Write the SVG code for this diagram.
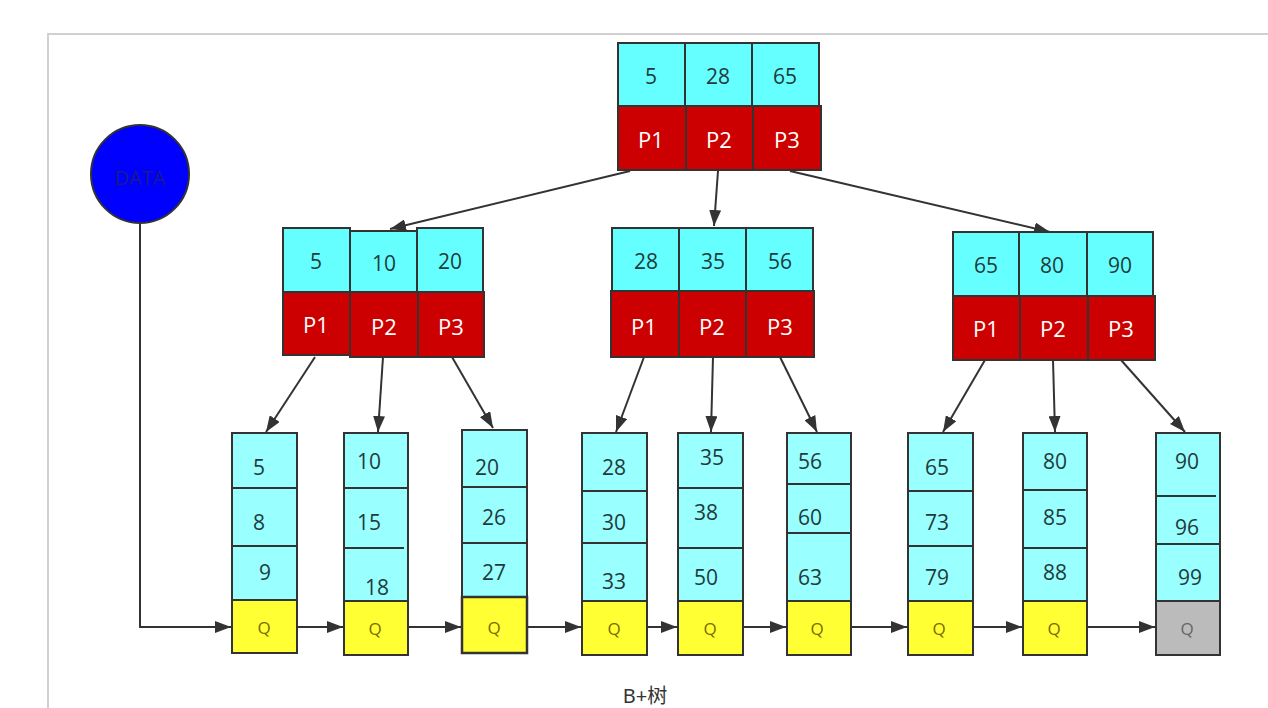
<svg xmlns="http://www.w3.org/2000/svg" width="1268" height="708" viewBox="0 0 1268 708">
<defs>
<marker id="ah" viewBox="0 0 10 10" refX="10" refY="5" markerWidth="16" markerHeight="12" markerUnits="userSpaceOnUse" orient="auto" preserveAspectRatio="none">
<path d="M0,0 L10,5 L0,10 z" fill="#333"/>
</marker>
<style>
.k{fill:#66ffff;stroke:#333;stroke-width:2}
.l{fill:#99ffff;stroke:#333;stroke-width:2}
.p{fill:#cc0000;stroke:#333;stroke-width:2}
.q{fill:#ffff33;stroke:#333;stroke-width:2}
.g{fill:#bbbbbb;stroke:#333;stroke-width:2}
.sep{stroke:#333;stroke-width:2}
text{font-family:"Open Sans","Noto Sans","Liberation Sans",sans-serif;text-anchor:middle;dominant-baseline:central}
.t{font-size:21px;fill:#1f3b3b}
.tp{font-size:22px;fill:#ffffff}
.tq{font-size:17px;fill:#7a6c00}
.tg{font-size:17px;fill:#666}
.c{stroke:#333;stroke-width:2;fill:none;marker-end:url(#ah)}
</style>
</defs>
<rect width="1268" height="708" fill="#ffffff"/>
<path d="M48,708 L48,34 L1268,34" fill="none" stroke="#d0d0d0" stroke-width="2"/>

<g id="connectors">
<path class="c" d="M140,222 L140,627 L231,627"/>
<line class="c" x1="630" y1="171" x2="390" y2="229"/>
<line class="c" x1="718" y1="171" x2="714" y2="226"/>
<line class="c" x1="790" y1="171" x2="1050" y2="232"/>
<line class="c" x1="315" y1="357" x2="266" y2="432"/>
<line class="c" x1="383" y1="357" x2="378" y2="432"/>
<line class="c" x1="452" y1="357" x2="493" y2="428"/>
<line class="c" x1="644" y1="357" x2="616" y2="432"/>
<line class="c" x1="713" y1="357" x2="711" y2="432"/>
<line class="c" x1="780" y1="357" x2="817" y2="432"/>
<line class="c" x1="985" y1="360" x2="943" y2="432"/>
<line class="c" x1="1053" y1="360" x2="1055" y2="432"/>
<line class="c" x1="1121" y1="360" x2="1185" y2="432"/>
<line class="c" x1="297" y1="627" x2="343" y2="627"/>
<line class="c" x1="408" y1="627" x2="461" y2="627"/>
<line class="c" x1="527" y1="627" x2="581" y2="627"/>
<line class="c" x1="647" y1="627" x2="677" y2="627"/>
<line class="c" x1="743" y1="627" x2="786" y2="627"/>
<line class="c" x1="851" y1="627" x2="907" y2="627"/>
<line class="c" x1="973" y1="627" x2="1022" y2="627"/>
<line class="c" x1="1087" y1="627" x2="1155" y2="627"/>
</g>

<g id="data">
<circle cx="140" cy="174" r="49" fill="#0000ff" stroke="#333" stroke-width="2"/>
<text x="140" y="177" style="font-size:20px;fill:#1a1a8c">DATA</text>
</g>

<g id="root">
<rect class="k" x="618" y="43" width="67" height="63"/>
<rect class="k" x="685" y="43" width="67" height="63"/>
<rect class="k" x="752" y="43" width="67" height="63"/>
<rect class="p" x="618" y="106" width="68" height="64"/>
<rect class="p" x="686" y="106" width="67" height="64"/>
<rect class="p" x="753" y="106" width="68" height="64"/>
<text class="t" x="651" y="76">5</text>
<text class="t" x="718" y="76">28</text>
<text class="t" x="785" y="76">65</text>
<text class="tp" x="651" y="139">P1</text>
<text class="tp" x="719" y="139">P2</text>
<text class="tp" x="787" y="139">P3</text>
</g>

<g id="inner-left">
<rect class="k" x="283" y="228" width="67" height="64"/>
<rect class="k" x="350" y="231" width="67" height="61"/>
<rect class="k" x="417" y="228" width="66" height="64"/>
<rect class="p" x="283" y="292" width="67" height="63"/>
<rect class="p" x="350" y="292" width="68" height="65"/>
<rect class="p" x="418" y="292" width="66" height="65"/>
<text class="t" x="316" y="261">5</text>
<text class="t" x="384" y="263">10</text>
<text class="t" x="450" y="261">20</text>
<text class="tp" x="316" y="324">P1</text>
<text class="tp" x="384" y="326">P2</text>
<text class="tp" x="451" y="326">P3</text>
</g>

<g id="inner-mid">
<rect class="k" x="612" y="228" width="67" height="63"/>
<rect class="k" x="679" y="228" width="67" height="63"/>
<rect class="k" x="746" y="228" width="67" height="63"/>
<rect class="p" x="611" y="291" width="68" height="66"/>
<rect class="p" x="679" y="291" width="67" height="66"/>
<rect class="p" x="746" y="291" width="68" height="66"/>
<text class="t" x="646" y="261">28</text>
<text class="t" x="713" y="261">35</text>
<text class="t" x="780" y="261">56</text>
<text class="tp" x="644" y="326">P1</text>
<text class="tp" x="712" y="326">P2</text>
<text class="tp" x="780" y="326">P3</text>
</g>

<g id="inner-right">
<rect class="k" x="953" y="232" width="66" height="64"/>
<rect class="k" x="1019" y="232" width="68" height="64"/>
<rect class="k" x="1087" y="232" width="66" height="64"/>
<rect class="p" x="953" y="296" width="67" height="64"/>
<rect class="p" x="1020" y="296" width="68" height="64"/>
<rect class="p" x="1088" y="296" width="67" height="64"/>
<text class="t" x="986" y="265">65</text>
<text class="t" x="1052" y="265">80</text>
<text class="t" x="1120" y="265">90</text>
<text class="tp" x="986" y="328">P1</text>
<text class="tp" x="1053" y="328">P2</text>
<text class="tp" x="1121" y="328">P3</text>
</g>

<g id="leaf1">
<rect class="l" x="232" y="433" width="65" height="167"/>
<line class="sep" x1="232" y1="488" x2="297" y2="488"/>
<line class="sep" x1="232" y1="546" x2="297" y2="546"/>
<rect class="q" x="232" y="600" width="65" height="53"/>
<text class="t" x="259" y="467">5</text>
<text class="t" x="259" y="522">8</text>
<text class="t" x="265" y="572">9</text>
<text class="tq" x="264" y="627">Q</text>
</g>

<g id="leaf2">
<rect class="l" x="344" y="433" width="64" height="168"/>
<line class="sep" x1="344" y1="488" x2="408" y2="488"/>
<line class="sep" x1="344" y1="548" x2="404" y2="548"/>
<rect class="q" x="344" y="601" width="64" height="54"/>
<text class="t" x="369" y="461">10</text>
<text class="t" x="369" y="522">15</text>
<text class="t" x="377" y="587">18</text>
<text class="tq" x="375" y="628">Q</text>
</g>

<g id="leaf3">
<rect class="l" x="462" y="430" width="65" height="167"/>
<line class="sep" x1="462" y1="487" x2="527" y2="487"/>
<line class="sep" x1="462" y1="543" x2="527" y2="543"/>
<rect class="q" x="462" y="597" width="65" height="56" style="stroke-width:2.5"/>
<text class="t" x="487" y="467">20</text>
<text class="t" x="494" y="517">26</text>
<text class="t" x="494" y="572">27</text>
<text class="tq" x="494" y="627">Q</text>
</g>

<g id="leaf4">
<rect class="l" x="582" y="433" width="65" height="168"/>
<line class="sep" x1="582" y1="491" x2="647" y2="491"/>
<line class="sep" x1="582" y1="543" x2="647" y2="543"/>
<rect class="q" x="582" y="601" width="65" height="54"/>
<text class="t" x="614" y="467">28</text>
<text class="t" x="614" y="522">30</text>
<text class="t" x="614" y="581">33</text>
<text class="tq" x="614" y="628">Q</text>
</g>

<g id="leaf5">
<rect class="l" x="678" y="433" width="65" height="168"/>
<line class="sep" x1="678" y1="488" x2="743" y2="488"/>
<line class="sep" x1="678" y1="548" x2="743" y2="548"/>
<rect class="q" x="678" y="601" width="65" height="54"/>
<text class="t" x="712" y="457">35</text>
<text class="t" x="706" y="512">38</text>
<text class="t" x="706" y="577">50</text>
<text class="tq" x="710" y="628">Q</text>
</g>

<g id="leaf6">
<rect class="l" x="787" y="433" width="64" height="168"/>
<line class="sep" x1="787" y1="484" x2="851" y2="484"/>
<line class="sep" x1="787" y1="533" x2="851" y2="533"/>
<rect class="q" x="787" y="601" width="64" height="54"/>
<text class="t" x="810" y="461">56</text>
<text class="t" x="810" y="517">60</text>
<text class="t" x="810" y="577">63</text>
<text class="tq" x="817" y="628">Q</text>
</g>

<g id="leaf7">
<rect class="l" x="908" y="433" width="65" height="168"/>
<line class="sep" x1="908" y1="491" x2="973" y2="491"/>
<line class="sep" x1="908" y1="546" x2="973" y2="546"/>
<rect class="q" x="908" y="601" width="65" height="54"/>
<text class="t" x="937" y="467">65</text>
<text class="t" x="937" y="522">73</text>
<text class="t" x="937" y="577">79</text>
<text class="tq" x="939" y="628">Q</text>
</g>

<g id="leaf8">
<rect class="l" x="1023" y="433" width="64" height="168"/>
<line class="sep" x1="1023" y1="490" x2="1087" y2="490"/>
<line class="sep" x1="1023" y1="548" x2="1087" y2="548"/>
<rect class="q" x="1023" y="601" width="64" height="54"/>
<text class="t" x="1055" y="461">80</text>
<text class="t" x="1055" y="517">85</text>
<text class="t" x="1055" y="572">88</text>
<text class="tq" x="1054" y="628">Q</text>
</g>

<g id="leaf9">
<rect class="l" x="1156" y="433" width="64" height="168"/>
<line class="sep" x1="1156" y1="496" x2="1216" y2="496"/>
<line class="sep" x1="1156" y1="544" x2="1220" y2="544"/>
<rect class="g" x="1156" y="601" width="64" height="54"/>
<text class="t" x="1187" y="461">90</text>
<text class="t" x="1187" y="527">96</text>
<text class="t" x="1190" y="577">99</text>
<text class="tg" x="1187" y="628">Q</text>
</g>

<text x="645" y="695" style="font-size:20px;fill:#333;font-family:'Noto Sans','Noto Sans CJK SC',sans-serif">B+树</text>
</svg>
